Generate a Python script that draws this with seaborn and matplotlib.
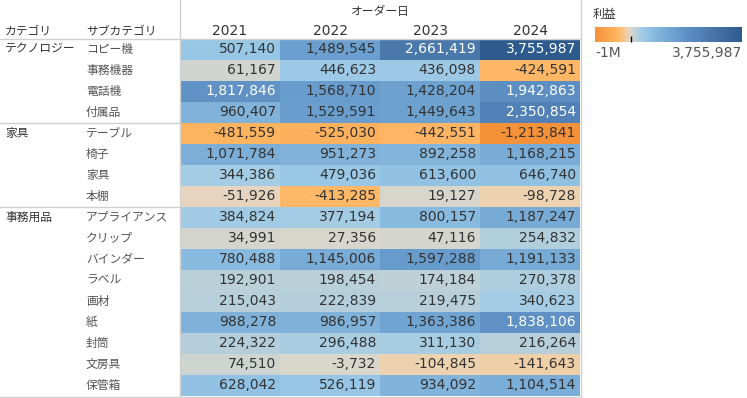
import numpy as np
import pandas as pd
import seaborn as sns
import matplotlib.pyplot as plt
from matplotlib.colors import LinearSegmentedColormap
from matplotlib.lines import Line2D

# Profit by category / sub-category and order year
categories = ["テクノロジー", "家具", "事務用品"]
subcategories = [
    ["コピー機", "事務機器", "電話機", "付属品"],
    ["テーブル", "椅子", "家具", "本棚"],
    ["アプライアンス", "クリップ", "バインダー", "ラベル", "画材", "紙", "封筒", "文房具", "保管箱"],
]
years = ["2021", "2022", "2023", "2024"]
profit = [
    [507140, 1489545, 2661419, 3755987],
    [61167, 446623, 436098, -424591],
    [1817846, 1568710, 1428204, 1942863],
    [960407, 1529591, 1449643, 2350854],
    [-481559, -525030, -442551, -1213841],
    [1071784, 951273, 892258, 1168215],
    [344386, 479036, 613600, 646740],
    [-51926, -413285, 19127, -98728],
    [384824, 377194, 800157, 1187247],
    [34991, 27356, 47116, 254832],
    [780488, 1145006, 1597288, 1191133],
    [192901, 198454, 174184, 270378],
    [215043, 222839, 219475, 340623],
    [988278, 986957, 1363386, 1838106],
    [224322, 296488, 311130, 216264],
    [74510, -3732, -104845, -141643],
    [628042, 526119, 934092, 1104514],
]

flat_sub = [s for grp in subcategories for s in grp]
df = pd.DataFrame(profit, index=flat_sub, columns=years)
vmin, vmax = df.values.min(), df.values.max()

# orange-blue diverging palette, anchored at profit levels
anchors = [
    (-1213841, "#f59139"), (-500000, "#feb25e"), (-420000, "#ffb866"),
    (-140000, "#efcfa8"), (-100000, "#edd2b1"), (-50000, "#e3d5c3"),
    (0, "#d8d6cc"), (60000, "#d0d4cf"), (190000, "#bad0d8"),
    (300000, "#a9cde2"), (440000, "#9bc9e7"), (600000, "#92c2e3"),
    (960000, "#80b2da"), (1500000, "#6a9fcf"), (1900000, "#5e8fc3"),
    (2350000, "#5181b6"), (2660000, "#4a78aa"), (3755987, "#2d5b8d"),
]
cmap = LinearSegmentedColormap.from_list(
    "orange_blue", [((v - vmin) / (vmax - vmin), c) for v, c in anchors])

plt.rcParams['font.family'] = ['Noto Sans CJK JP', 'DejaVu Sans']
JP = 8.5

W, H = 747, 398
fx = lambda x: x / W
fy = lambda y: 1 - y / H

fig = plt.figure(figsize=(W / 100, H / 100), dpi=100)
ax = fig.add_axes([fx(180), fy(396), fx(580) - fx(180), fy(38.5) - fy(396)])
cax = fig.add_axes([fx(595), fy(42), fx(742) - fx(595), 15 / H])

sns.heatmap(df, ax=ax, cmap=cmap, vmin=vmin, vmax=vmax, cbar_ax=cax,
            cbar_kws={'orientation': 'horizontal', 'ticks': [0]},
            xticklabels=False, yticklabels=False, linewidths=0)
ax.set_xlabel('')
ax.set_ylabel('')

# cell values, right aligned
for i in range(len(flat_sub)):
    for j in range(len(years)):
        v = df.iat[i, j]
        ax.text(j + 0.96, i + 0.5, f"{v:,}", ha='right', va='center',
                fontsize=10, family='DejaVu Sans',
                color='white' if v > 1700000 else '#333333')

# headers
fig.text(fx(380), fy(12), "オーダー日", ha='center', va='center', fontsize=JP, color='#333333')
for j, y in enumerate(years):
    fig.text(fx(230 + 100 * j), fy(31), y, ha='center', va='center',
             fontsize=10, family='DejaVu Sans', color='#333333')
fig.text(fx(5), fy(31), "カテゴリ", ha='left', va='center', fontsize=JP, color='#333333')
fig.text(fx(86), fy(31), "サブカテゴリ", ha='left', va='center', fontsize=JP, color='#333333')

# row labels
row = 0
for cat, grp in zip(categories, subcategories):
    fig.text(fx(5), fy(38.5 + 21 * row + 10.5), cat, ha='left', va='center',
             fontsize=JP, color='#333333')
    for s in grp:
        fig.text(fx(86), fy(38.5 + 21 * row + 10.5), s, ha='left', va='center',
                 fontsize=JP, color='#555555')
        row += 1
    if row < len(flat_sub):
        yy = fy(38.5 + 21 * row)
        fig.add_artist(Line2D([fx(0), fx(180)], [yy, yy], color='#d0d0d0', lw=1))

# grid lines
fig.add_artist(Line2D([fx(0), fx(580)], [fy(38.5)] * 2, color='#d0d0d0', lw=1))
fig.add_artist(Line2D([fx(0), fx(580)], [fy(396.5)] * 2, color='#d0d0d0', lw=1))
fig.add_artist(Line2D([fx(180)] * 2, [0, 1], color='#d0d0d0', lw=1))
fig.add_artist(Line2D([fx(581)] * 2, [0, 1], color='#d0d0d0', lw=1))

# legend
cbar = ax.collections[0].colorbar
cbar.outline.set_edgecolor('#aaaaaa')
cax.tick_params(length=4, width=1, direction='in', color='black', labelbottom=False)
fig.text(fx(593), fy(14), "利益", ha='left', va='center', fontsize=JP, color='#333333')
fig.text(fx(595), fy(53), "-1M", ha='left', va='center', fontsize=10,
         family='DejaVu Sans', color='#555555')
fig.text(fx(742), fy(53), f"{vmax:,}", ha='right', va='center', fontsize=10,
         family='DejaVu Sans', color='#555555')

plt.savefig('out.png', dpi=100)
